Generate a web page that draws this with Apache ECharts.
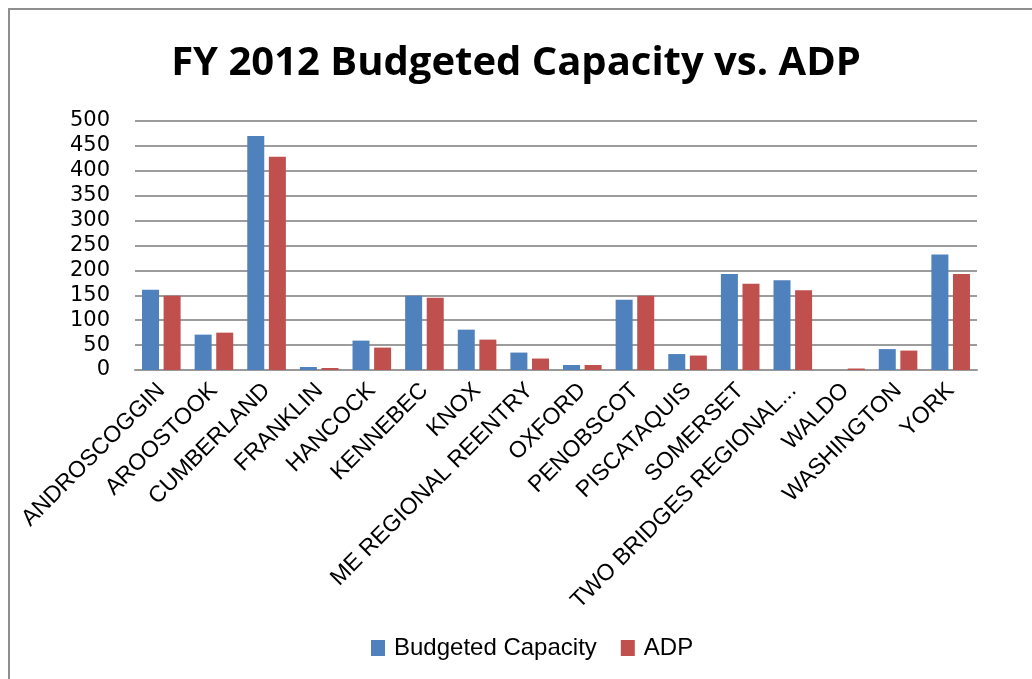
<!DOCTYPE html>
<html>
<head>
<meta charset="utf-8">
<script src="https://cdn.jsdelivr.net/npm/echarts@6/dist/echarts.min.js"></script>
<style>
  html, body { margin: 0; padding: 0; background: #fff; }
  #chart { width: 1032px; height: 679px; }
</style>
</head>
<body>
<div id="chart"></div>
<script>
// Facilities (counties / regional jails)
const facilities = [
  'ANDROSCOGGIN', 'AROOSTOOK', 'CUMBERLAND', 'FRANKLIN', 'HANCOCK', 'KENNEBEC',
  'KNOX', 'ME REGIONAL REENTRY', 'OXFORD', 'PENOBSCOT', 'PISCATAQUIS', 'SOMERSET',
  'TWO BRIDGES REGIONAL...', 'WALDO', 'WASHINGTON', 'YORK'
];

// FY 2012 budgeted bed capacity
const budgetedCapacity = [161, 71, 470, 6, 59, 149, 81, 35, 10, 141, 32, 193, 180, 0, 42, 232];

// Average daily population
const adp = [149, 75, 428, 4, 45, 145, 61, 23, 10, 149, 29, 173, 160, 3, 39, 193];

// Value axis ticks
const yMin = 0;
const yMax = 500;
const yStep = 50;

const chart = echarts.init(document.getElementById('chart'), null, { renderer: 'canvas' });

const labelFont = "'Liberation Sans', sans-serif";

chart.setOption({
  animation: false,
  backgroundColor: '#ffffff',
  title: {
    text: 'FY 2012 Budgeted Capacity vs. ADP',
    left: 'center',
    top: 39,
    textStyle: {
      fontFamily: "'Open Sans', sans-serif",
      fontWeight: 'bold',
      fontSize: 40,
      color: '#000000'
    }
  },
  graphic: [{
    type: 'rect',
    silent: true,
    shape: { x: 9, y: 9, width: 1100, height: 800 },
    style: { fill: 'none', stroke: '#8e8e8e', lineWidth: 2 }
  }],
  legend: {
    bottom: 14,
    left: 366,
    itemWidth: 14,
    itemHeight: 16,
    itemGap: 24,
    icon: 'rect',
    textStyle: { fontFamily: labelFont, fontSize: 24, color: '#000000', padding: [0, 0, 0, 4] },
    data: ['Budgeted Capacity', 'ADP']
  },
  grid: {
    left: 135,
    right: 55,
    top: 121,
    bottom: 309
  },
  xAxis: {
    type: 'category',
    data: facilities,
    axisLine: { lineStyle: { color: '#999999', width: 2 } },
    axisTick: { show: false },
    axisLabel: {
      interval: 0,
      rotate: 45,
      margin: 17,
      fontFamily: labelFont,
      fontSize: 23,
      color: '#000000'
    }
  },
  yAxis: {
    type: 'value',
    min: yMin,
    max: yMax,
    interval: yStep,
    axisLine: { show: false },
    axisTick: { show: false },
    axisLabel: {
      margin: 25,
      fontFamily: "'DejaVu Sans', sans-serif",
      fontSize: 21,
      color: '#000000'
    },
    splitLine: { lineStyle: { color: '#9c9c9c', width: 2 } }
  },
  series: [
    {
      name: 'Budgeted Capacity',
      type: 'bar',
      data: budgetedCapacity,
      barWidth: 17,
      barGap: '27%',
      itemStyle: { color: '#4f81bd' }
    },
    {
      name: 'ADP',
      type: 'bar',
      data: adp,
      barWidth: 17,
      itemStyle: { color: '#c0504d' }
    }
  ]
});
</script>
</body>
</html>
